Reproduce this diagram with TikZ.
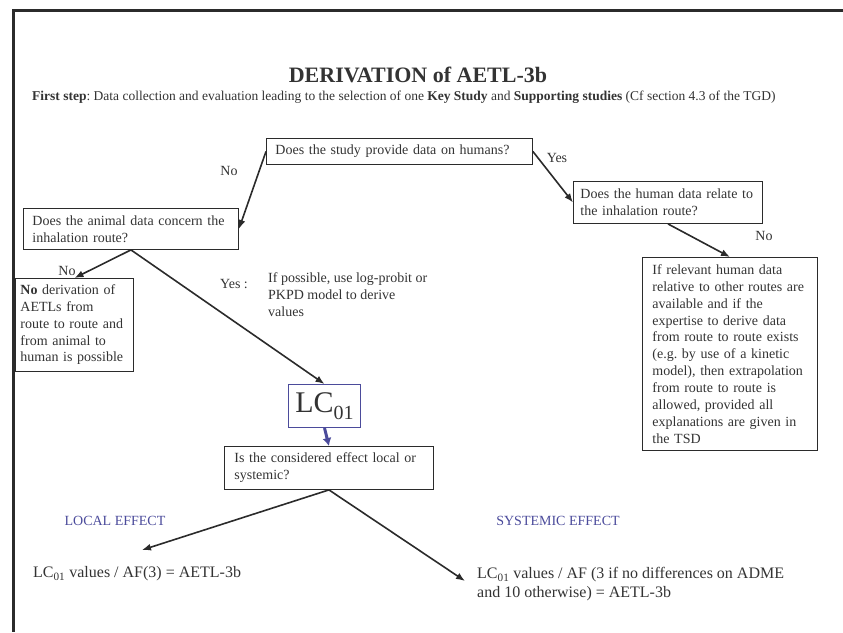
\documentclass[tikz,border=0pt]{standalone}
\usepackage{fontspec}
\setmainfont{Liberation Serif}
\usepackage{tikz}
\usetikzlibrary{arrows.meta,positioning,calc}
\usepackage{xcolor}
\frenchspacing

\definecolor{txtgray}{HTML}{333333}
\definecolor{linegray}{HTML}{2B2B2B}
\definecolor{effblue}{HTML}{4B4B9B}

\tikzset{
  box/.style={draw=linegray, line width=0.9pt, anchor=north west, align=left, inner xsep=9pt, inner ysep=2pt, font=\fontsize{14}{16.8}\selectfont, text=txtgray},
  link/.style={-{Latex[length=9pt,width=7pt]}, draw=linegray, line width=1.6pt},
  lbl/.style={font=\fontsize{14}{17}\selectfont, text=txtgray},
}

\begin{document}
\begin{tikzpicture}[x=1pt,y=-1pt]
\useasboundingbox (0,0) rectangle (843,632);

% frame
\draw[line width=3pt, linegray] (843,10.5) -- (13.5,10.5) -- (13.5,632);

% title
\node[font=\fontsize{22}{26}\selectfont\bfseries, text=txtgray] (title) at (418,75) {DERIVATION of AETL-3b};
\node[anchor=west, inner sep=0pt, font=\fontsize{13.5}{16}\selectfont, text=txtgray] (first) at (32,97) {\textbf{First step}: Data collection and evaluation leading to the selection of one \textbf{Key Study} and \textbf{Supporting studies} (Cf section 4.3 of the TGD)};

% questions
\node[box, text width=248pt, minimum height=26pt] (qhuman) at (266,138) {Does the study provide data on humans?};
\node[box, inner xsep=7pt, text width=175pt, minimum height=42pt] (qroute) at (573,181) {Does the human data relate to\\the inhalation route?};
\node[box, text width=197pt, minimum height=41pt] (qanimal) at (23,208) {Does the animal data concern the\\inhalation route?};
\node[box, inner xsep=5pt, text width=108pt, minimum height=93pt] (noderiv) at (15,278) {\textbf{No} derivation of\\AETLs from\\route to route and\\from animal to\\human is possible};
\node[box, inner xsep=10pt, text width=155pt, minimum height=193pt, font=\fontsize{14}{16.9}\selectfont] (extrap) at (642,257) {If relevant human data\\relative to other routes are\\available and if the\\expertise to derive data\\from route to route exists\\(e.g. by use of a kinetic\\model), then extrapolation\\from route to route is\\allowed, provided all\\explanations are given in\\the TSD};
\node[draw=effblue, line width=1pt, anchor=north west, minimum width=72pt, minimum height=43pt, inner sep=0pt, font=\fontsize{30}{36}\selectfont, text=txtgray] (lc) at (288,384) {LC\raisebox{-7pt}{\fontsize{20}{20}\selectfont 01}};
\node[box, inner xsep=10pt, text width=189pt, minimum height=43pt] (qeffect) at (224,446) {Is the considered effect local or\\systemic?};

% labels
\node[lbl] (lno1) at (229,171) {No};
\node[lbl] (lyes1) at (557,158) {Yes};
\node[lbl] (lno2) at (764,236) {No};
\node[lbl] (lno3) at (67,271) {No};
\node[lbl] (lyes2) at (234,284) {Yes :};
\node[lbl, anchor=west, align=left, inner sep=0pt] (hint) at (268,295) {If possible, use log-probit or\\PKPD model to derive\\values};

% effects
\node[lbl, text=effblue] (local) at (115,521) {LOCAL EFFECT};
\node[lbl, text=effblue] (systemic) at (558,521) {SYSTEMIC EFFECT};
\node[anchor=west, inner sep=0pt, font=\fontsize{16}{19}\selectfont, text=txtgray] (afloc) at (33,574) {LC\textsubscript{01} values / AF(3) = AETL-3b};
\node[anchor=west, align=left, inner sep=0pt, font=\fontsize{16}{19}\selectfont, text=txtgray] (afsys) at (477,584) {LC\textsubscript{01} values / AF (3 if no differences on ADME\\and 10 otherwise) = AETL-3b};
\coordinate (loctip) at (142,550);
\coordinate (systip) at (465,581);

% links
\draw[link] (qhuman.west) -- (qanimal.east);
\draw[link] (qhuman.east) -- (qroute.west);
\draw[link] (qroute.south) -- (extrap.north);
\draw[link] (qanimal.south) -- (noderiv.north);
\draw[link] (qanimal.south) -- (lc.north);
\draw[link, draw=effblue, line width=3pt, -{Latex[length=8pt,width=9pt]}] (lc.south) -- (qeffect.north);
\draw[link] (qeffect.south) -- (loctip);
\draw[link] (qeffect.south) -- (systip);

\end{tikzpicture}
\end{document}
